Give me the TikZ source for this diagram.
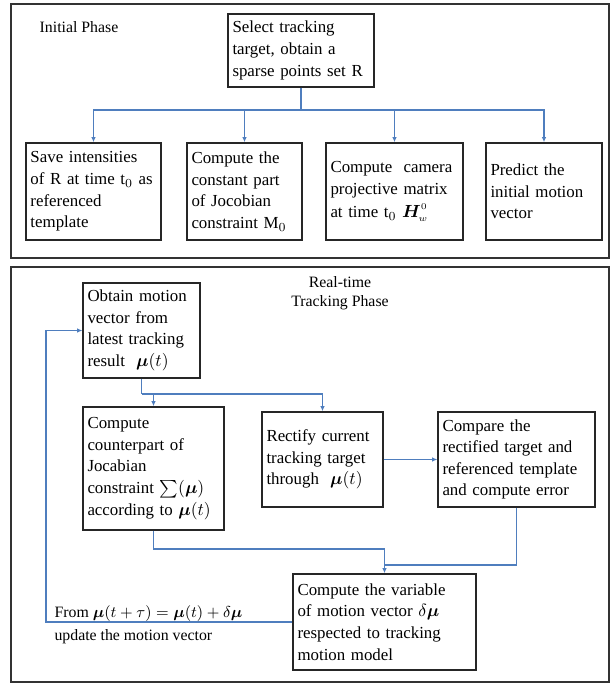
\documentclass[tikz,border=0pt]{standalone}
\usepackage{amsmath}
\usepackage{fontspec}
\setmainfont{Liberation Serif}
\usetikzlibrary{arrows.meta}

\definecolor{linkblue}{RGB}{79,126,190}

\begin{document}
\begin{tikzpicture}[>={Latex[length=3pt,width=2.6pt]}]
  \tikzset{
    panel/.style={draw=black!80,line width=1.3pt},
    box/.style={draw=black!85,line width=0.8pt,align=left,inner sep=2.5pt,
      font=\fontsize{9.6}{12.3}\selectfont},
    link/.style={linkblue,line width=0.6pt},
    tag/.style={align=center,inner sep=1pt,font=\fontsize{9}{11}\selectfont}
  }
  \useasboundingbox (0,0) rectangle (12.26,13.70);

  % initial phase
  \draw[panel] (0.22,8.54) rectangle (12.18,13.62);
  \node[tag] (initial) at (1.58,13.16) {Initial Phase};
  \node[box,text width=2.74cm,minimum height=1.46cm] (select) at (6.02,12.69)
    {Select tracking\\target, obtain a\\sparse points set R};
  \node[box,text width=2.52cm,minimum height=1.94cm] (save) at (1.87,9.87)
    {Save intensities\\of R at time t$_0$ as\\referenced\\template};
  \node[box,text width=2.12cm,minimum height=1.94cm] (constant) at (4.89,9.87)
    {Compute the\\constant part\\of Jocobian\\constraint M$_0$};
  \node[box,text width=2.56cm,minimum height=1.94cm] (camera) at (7.89,9.87)
    {Compute\ \ camera\\projective matrix\\[1pt]at time t$_0$ $\boldsymbol{H}_{\!\scriptscriptstyle w}^{\scriptscriptstyle 0}$};
  \node[box,text width=2.14cm,minimum height=1.94cm] (predict) at (10.88,9.87)
    {Predict the\\initial motion\\vector};
  \coordinate (split) at (6.02,11.50);
  \draw[link] (select) -- (split);
  \draw[link,->] (split) -| (save);
  \draw[link,->] (split) -| (constant);
  \draw[link,->] (split) -| (camera);
  \draw[link,->] (split) -| (predict);

  % real-time tracking phase
  \draw[panel] (0.22,0.06) rectangle (12.18,8.36);
  \node[tag] (realtime) at (6.80,7.84) {Real-time\\Tracking Phase};
  \node[box,text width=2.16cm,minimum height=1.90cm] (obtain) at (2.83,7.09)
    {Obtain motion\\vector from\\latest tracking\\result\ \ $\boldsymbol{\mu}(t)$};
  \node[box,text width=2.64cm,minimum height=2.46cm] (counterpart) at (3.07,4.33)
    {Compute\\counterpart of\\Jocabian\\constraint $\sum(\boldsymbol{\mu})$\\according to $\boldsymbol{\mu}(t)$};
  \node[box,text width=2.24cm,minimum height=1.90cm] (rectify) at (6.45,4.51)
    {Rectify current\\tracking target\\through\ \ $\boldsymbol{\mu}(t)$};
  \node[box,text width=2.96cm,minimum height=1.90cm] (compare) at (10.33,4.51)
    {Compare the\\rectified target and\\referenced template\\and compute error};
  \node[box,text width=3.48cm,minimum height=1.92cm] (variable) at (7.69,1.26)
    {Compute the variable\\of motion vector $\delta\boldsymbol{\mu}$\\respected to tracking\\motion model};
  \node[tag,align=left] (update) at (2.97,1.21)
    {From $\boldsymbol{\mu}(t+\tau)=\boldsymbol{\mu}(t)+\delta\boldsymbol{\mu}$\\[2pt]update the motion vector};
  \coordinate (fork) at (2.83,5.82);
  \coordinate (joinL) at (7.69,2.72);
  \coordinate (joinR) at (7.69,2.40);
  \coordinate (loop) at (0.92,0);
  \draw[link] (obtain) -- (fork);
  \draw[link,->] (fork) -| (counterpart);
  \draw[link,->] (fork) -| (rectify);
  \draw[link,->] (rectify) -- (compare);
  \draw[link,->] (counterpart) |- (joinL) -- (variable);
  \draw[link] (compare) |- (joinR);
  \draw[link,->] (variable) -- (variable -| loop) |- (obtain);
\end{tikzpicture}
\end{document}
